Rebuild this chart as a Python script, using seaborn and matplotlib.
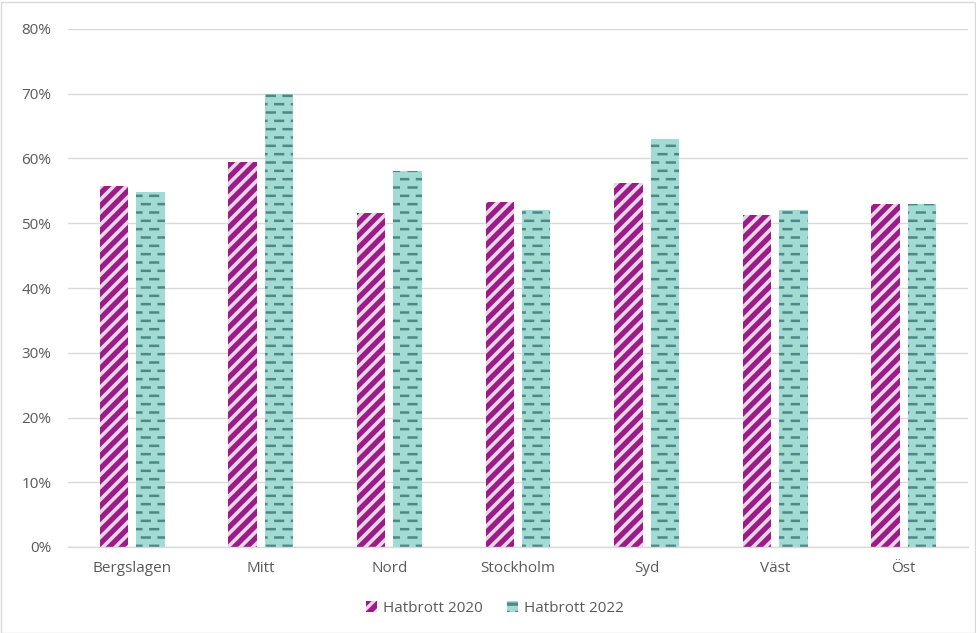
import numpy as np
import pandas as pd
import matplotlib
matplotlib.use("Agg")
import matplotlib.pyplot as plt
import matplotlib.hatch as mhatch
from matplotlib.path import Path
from matplotlib.patches import Rectangle, Patch
from matplotlib.ticker import PercentFormatter
import seaborn as sns

# ---- data ----
regions = ["Bergslagen", "Mitt", "Nord", "Stockholm", "Syd", "Väst", "Öst"]
series_names = ["Hatbrott 2020", "Hatbrott 2022"]
values_2020 = [55.8, 59.4, 51.6, 53.3, 56.2, 51.3, 53.0]
values_2022 = [54.9, 70.0, 58.0, 52.0, 63.0, 52.0, 53.0]
y_ticks = [0, 10, 20, 30, 40, 50, 60, 70, 80]


# ---- custom hatch patterns ----
class StripeHatch(mhatch.HatchPatternBase):
    """Diagonal stripes, triggered by 'O'."""
    def __init__(self, hatch, density):
        self.num_lines = 16 * hatch.count('O')
        self.num_vertices = (self.num_lines + 1) * 2 if self.num_lines else 0

    def set_vertices_and_codes(self, vertices, codes):
        steps = np.linspace(-0.5, 0.5, self.num_lines + 1)
        vertices[0::2, 0] = 0.0 + steps
        vertices[0::2, 1] = 0.0 - steps
        vertices[1::2, 0] = 1.0 + steps
        vertices[1::2, 1] = 1.0 - steps
        codes[0::2] = Path.MOVETO
        codes[1::2] = Path.LINETO


class DashHatch(mhatch.HatchPatternBase):
    """Staggered short horizontal dashes, triggered by 'o'."""
    def __init__(self, hatch, density):
        self.on = hatch.count('o') > 0
        self.ncols = 6
        self.nrows = 12
        self.num_vertices = self.ncols * self.nrows * 2 if self.on else 0

    def set_vertices_and_codes(self, vertices, codes):
        k = 0
        cw = 1.0 / self.ncols
        for r in range(self.nrows):
            y = (r + 0.5) / self.nrows
            off = 0.0 if r % 2 == 0 else 0.5 * cw
            for c in range(self.ncols):
                x0 = c * cw + off + 0.02 * cw
                x1 = x0 + 0.46 * cw
                vertices[k] = (x0, y)
                vertices[k + 1] = (x1, y)
                codes[k] = Path.MOVETO
                codes[k + 1] = Path.LINETO
                k += 2


new_types = []
for t in mhatch._hatch_types:
    if t is mhatch.SmallCircles:
        new_types.append(DashHatch)
    elif t is mhatch.LargeCircles:
        new_types.append(StripeHatch)
    else:
        new_types.append(t)
mhatch._hatch_types[:] = new_types

# ---- styling ----
sns.set_theme(style="white")
plt.rcParams["font.family"] = ["Open Sans", "DejaVu Sans"]
plt.rcParams["hatch.linewidth"] = 2.4

col_2020 = "#9B1C86"
hatch_2020 = "#E9D6EA"
col_2022 = "#A2DAD4"
hatch_2022 = "#4C8985"
text_col = "#595959"
grid_col = "#D9D9D9"

df = pd.DataFrame({
    "region": regions * 2,
    "serie": [series_names[0]] * len(regions) + [series_names[1]] * len(regions),
    "value": values_2020 + values_2022,
})

fig = plt.figure(figsize=(9.76, 6.33), dpi=100)
ax = fig.add_axes([68 / 976, 1 - 547 / 633, 900 / 976, (547 - 29) / 633])

sns.barplot(data=df, x="region", y="value", hue="serie",
            palette=[col_2020, col_2022], width=0.568, gap=0.22,
            ax=ax, legend=False, saturation=1)

styles = {0: (col_2020, hatch_2020, "O", 2.6), 1: (col_2022, hatch_2022, "o", 1.8)}
n = len(regions)
for i, bar in enumerate(ax.patches):
    s = i // n
    fc, hc, h, lw = styles[s]
    bar.set_facecolor(fc)
    bar.set_edgecolor(hc)
    bar.set_hatch(h)
    bar.set_linewidth(0)
    if hasattr(bar, "set_hatch_linewidth"):
        bar.set_hatch_linewidth(lw)

ax.set_ylim(0, 80)
ax.set_xlim(-0.5, n - 0.5)
ax.set_yticks(y_ticks)
ax.yaxis.set_major_formatter(PercentFormatter(decimals=0))
ax.set_xlabel("")
ax.set_ylabel("")
ax.tick_params(axis="both", length=0, labelsize=11, labelcolor=text_col)
ax.tick_params(axis="y", pad=12)
ax.tick_params(axis="x", pad=10)
ax.yaxis.grid(True, color=grid_col, linewidth=1)
ax.set_axisbelow(True)
for side in ["left", "right", "top"]:
    ax.spines[side].set_visible(False)
ax.spines["bottom"].set_color(grid_col)
ax.spines["bottom"].set_linewidth(1)

handles = []
for s in range(2):
    fc, hc, h, lw = styles[s]
    p = Patch(facecolor=fc, edgecolor=hc, hatch=h, linewidth=0, label=series_names[s])
    if hasattr(p, "set_hatch_linewidth"):
        p.set_hatch_linewidth(lw)
    handles.append(p)
fig.legend(handles=handles, loc="center", bbox_to_anchor=(0.507, 1 - 608 / 633),
           ncol=2, frameon=False, fontsize=11, labelcolor=text_col,
           handlelength=0.7, handleheight=0.7, handletextpad=0.4, columnspacing=1.6)

fig.patches.append(Rectangle((0.5 / 976, 0.5 / 633), 974 / 976, 631 / 633,
                             transform=fig.transFigure, fill=False,
                             edgecolor=grid_col, linewidth=1))

fig.savefig("out.png", dpi=100)
